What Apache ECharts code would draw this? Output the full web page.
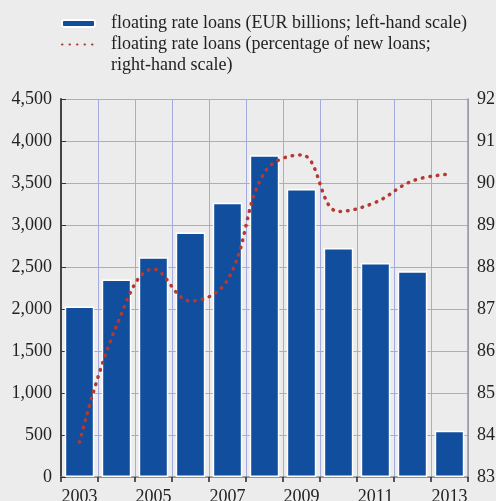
<!DOCTYPE html>
<html>
<head>
<meta charset="utf-8">
<script src="https://cdn.jsdelivr.net/npm/echarts@6/dist/echarts.min.js"></script>
<style>
  html, body { margin: 0; padding: 0; background: #ececec; }
  #chart { width: 496px; height: 501px; }
</style>
</head>
<body>
<div id="chart"></div>
<script>
// categories
var years = ['2003','2004','2005','2006','2007','2008','2009','2010','2011','2012','2013'];
// floating rate loans, EUR billions (left-hand scale)
var loansEur = [2030, 2350, 2615, 2910, 3265, 3830, 3430, 2725, 2548, 2448, 550];
// floating rate loans, percentage of new loans (right-hand scale)
var loansPct = [83.83, 86.60, 87.95, 87.19, 87.69, 90.25, 90.67, 89.32, 89.54, 90.05, 90.21];

var nameBar = 'floating rate loans (EUR billions; left-hand scale)';
var nameLine = 'floating rate loans (percentage of new loans;\nright-hand scale)';

var serif = '"Liberation Serif", "DejaVu Serif", serif';
var chart = echarts.init(document.getElementById('chart'));

var legendText = { fontFamily: serif, fontSize: 18, color: '#222', lineHeight: 21, padding: [0, 0, 0, 11] };

var option = {
    backgroundColor: '#ececec',
    animation: false,
    textStyle: { fontFamily: serif },
    legend: [
        {
            data: [nameBar],
            left: 61,
            top: 13,
            padding: 0,
            itemWidth: 33,
            itemHeight: 7,
            textStyle: legendText
        },
        {
            data: [nameLine],
            left: 61,
            top: 13,
            padding: 0,
            itemWidth: 33,
            itemHeight: 7,
            itemStyle: { opacity: 0, borderWidth: 0 },
            // blank first line so the dotted icon lines up with the first text line
            formatter: function (name) { return ' \n' + name; },
            textStyle: legendText
        }
    ],
    grid: { left: 61, right: 28, top: 99, bottom: 24, containLabel: false, outerBoundsMode: 'none' },
    xAxis: {
        type: 'category',
        data: years,
        boundaryGap: true,
        offset: 2,
        axisLine: { show: true, lineStyle: { color: '#8a8a8a', width: 1.5 } },
        axisTick: { show: true, interval: 0, length: 5, lineStyle: { color: '#222', width: 1.5 } },
        axisLabel: { interval: 1, margin: 9, fontSize: 18, color: '#222', fontFamily: serif },
        splitLine: { show: true, interval: 0, lineStyle: { color: '#a3abdf', width: 1 } }
    },
    yAxis: [
        {
            type: 'value',
            min: 0,
            max: 4500,
            interval: 500,
            position: 'left',
            axisLine: { show: true, lineStyle: { color: '#444', width: 2 } },
            axisTick: { show: true, inside: true, length: 5, lineStyle: { color: '#333' } },
            axisLabel: {
                margin: 9, fontSize: 18, color: '#222', fontFamily: serif,
                formatter: function (v) { return v.toLocaleString('en-US'); }
            },
            splitLine: { show: true, lineStyle: { color: '#a3abdf', width: 1 } }
        },
        {
            type: 'value',
            min: 83,
            max: 92,
            interval: 1,
            position: 'right',
            axisLine: { show: true, lineStyle: { color: '#999', width: 1.5 } },
            axisTick: { show: false },
            axisLabel: { margin: 9, fontSize: 18, color: '#222', fontFamily: serif },
            splitLine: { show: false }
        }
    ],
    series: [
        {
            name: nameBar,
            type: 'bar',
            yAxisIndex: 0,
            data: loansEur,
            barCategoryGap: '20%',
            itemStyle: { color: '#114e9e', borderColor: '#ffffff', borderWidth: 1.5 }
        },
        {
            name: nameLine,
            type: 'line',
            yAxisIndex: 1,
            data: loansPct,
            smooth: 0.4,
            symbol: 'none',
            z: 5,
            itemStyle: { color: '#b5392f' },
            lineStyle: { color: '#b5392f', width: 3.5, type: [0.5, 7], cap: 'round' }
        }
    ]
};

chart.setOption(option);
</script>
</body>
</html>
